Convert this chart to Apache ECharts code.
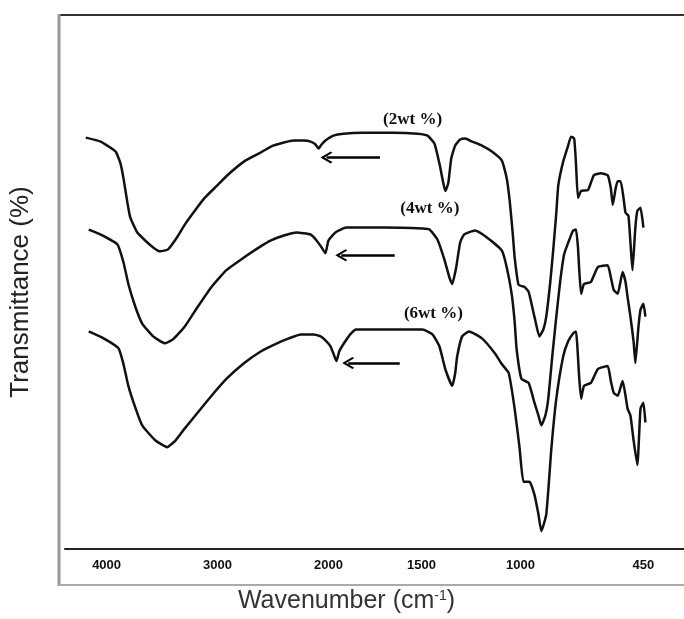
<!DOCTYPE html>
<html>
<head>
<meta charset="utf-8">
<script src="https://cdn.jsdelivr.net/npm/echarts@6/dist/echarts.min.js"></script>
<style>
  html, body { margin: 0; padding: 0; background: #fff; }
  #main { width: 684px; height: 619px; }
</style>
</head>
<body>
<div id="main"></div>
<script>
// x axis breaks: the wavenumber scale is not linear (expanded below 2000)
const tickWn = [4000, 3000, 2000, 1500, 1000, 450];
const tickLabels = ['4000', '3000', '2000', '1500', '1000', '450'];
const tickAxis = [0, 112, 224, 318, 418, 542];

// 2 wt %
const wn2 = [4188,4054,3920,3875,3848,3812,3786,3723,3652,3580,3518,3446,3366,3295,3205,3116,3009,2911,2759,2625,2518,2402,2312,2223,2161,2116,2089,2062,2027,1973,1920,1814,1654,1521,1470,1435,1410,1390,1380,1365,1350,1330,1305,1280,1245,1195,1145,1095,1070,1055,1040,1030,1010,982,964,951,933,916,898,885,867,854,840,831,809,787,774,760,752,743,729,698,672,641,610,596,587,574,565,552,539,530,517,508,499,486,477,463,450];
const t2 = [83.2,82.4,80.4,78,75,70,67,64,62.4,61,60.2,60.6,63,65.6,68.4,71,73.4,75.6,78.4,80,81.4,82.2,82.6,82.6,82.4,81.8,81,81.8,82.6,83.6,84,84.2,84.2,84,83.6,82,78,74,72.4,74,79,81.6,82.8,83,82.4,81.6,80.4,78.6,75,70.4,64,59,53.4,53,52,49.6,46,43,44.4,47,54,60.4,68,73.6,78.4,81.6,83.4,83,78,71,72.4,72.6,75.6,76,75.6,73,69.6,73,74.4,74.4,71,68,67.4,62,56.4,65,68.4,69,65];

// 4 wt %
const wn4 = [4161,4054,3902,3848,3804,3741,3679,3580,3473,3402,3295,3178,3054,2920,2759,2625,2518,2402,2286,2161,2107,2062,2027,2000,1963,1904,1707,1495,1460,1420,1385,1360,1345,1325,1305,1285,1230,1170,1095,1070,1045,1030,1020,996,964,938,920,907,889,876,858,840,823,805,783,765,752,743,738,729,716,685,654,610,596,583,565,543,530,521,508,494,486,472,463,450,441];
const t4 = [64.6,63.6,61.6,58,53.6,49,45.6,43,41.6,42.4,45,49,53,56.4,59,61,62.4,63.4,64,63.6,62.4,61,59.8,62.4,64,65,65,64.8,64.6,62.6,58.6,55,53.6,57,62,63.6,64.4,63,60.4,57,51.6,46,40.4,34.4,33.6,29.6,27,25,27,30.4,39,47,54,59.6,62.4,64.4,64.6,61,57,51.6,53.6,54,57,57.4,55,52.4,51.6,56,54,51,47,42,37.6,45,48.4,49.6,47];

// 6 wt %
const wn6 = [4161,4027,3893,3848,3804,3741,3679,3562,3455,3384,3295,3178,3054,2920,2759,2607,2464,2357,2250,2134,2071,2027,1989,1968,1957,1942,1920,1883,1851,1761,1495,1445,1410,1380,1345,1330,1320,1295,1260,1195,1130,1095,1060,1030,1005,987,960,938,920,907,885,862,840,809,787,765,752,738,729,716,685,654,610,596,583,565,543,530,521,508,494,477,463,450,441];
const t6 = [44,42.6,40.6,37.4,33,28.6,25,22,20.6,21.8,24.4,27.6,31,34.4,37.6,40,41.6,42.6,43.4,43.4,43,42.2,41,39,38,40,41.4,43.4,44.4,44.4,44.4,43.4,41,36.4,33,35.6,39,43,44,42.6,39.6,37.4,35.6,28.4,20.4,13.6,13.6,11,7,3.6,7,20.4,30.4,39,42,43.6,44,35,30.4,33,33.6,36.4,37,34,31.6,31,34,31,28.4,27,22,17,28.4,29.6,25.6];

// annotations
const labelText = ['(2wt %)', '(4wt %)', '(6wt %)'];
const labelWn = [1548, 1458, 1440];
const labelT = [86.8, 68.8, 47.6];
const arrowFromWn = [1723, 1644, 1617];
const arrowToWn = [2018, 1931, 1894];
const arrowT = [79.2, 59.4, 37.6];

function wnToAxis(wn) {
  let i = 0;
  while (i < tickWn.length - 2 && wn < tickWn[i + 1]) i++;
  const f = (wn - tickWn[i]) / (tickWn[i + 1] - tickWn[i]);
  return tickAxis[i] + f * (tickAxis[i + 1] - tickAxis[i]);
}

const arrowHead = 'path://M0,0 L7,9 L5.5,10.5 L0,3.5 L-5.5,10.5 L-7,9 Z';

function makeSeries(name, wn, t, k) {
  return {
    name: name,
    type: 'line',
    data: wn.map((w, j) => [wnToAxis(w), t[j]]),
    showSymbol: false,
    smooth: 0.15,
    lineStyle: { color: '#111', width: 2.5 },
    markLine: {
      silent: true,
      symbol: ['none', arrowHead],
      symbolSize: [12, 12],
      lineStyle: { color: '#000', width: 2.5, type: 'solid' },
      label: { show: false },
      data: [[
        { coord: [wnToAxis(arrowFromWn[k]), arrowT[k]] },
        { coord: [wnToAxis(arrowToWn[k]), arrowT[k]] }
      ]]
    },
    markPoint: {
      silent: true,
      symbol: 'circle',
      symbolSize: 1,
      itemStyle: { color: 'rgba(0,0,0,0)' },
      label: {
        show: true, position: 'inside', formatter: '{b}',
        fontFamily: 'Liberation Serif', fontWeight: 'bold', fontSize: 17, color: '#111'
      },
      data: [{ name: labelText[k], coord: [wnToAxis(labelWn[k]), labelT[k]] }]
    }
  };
}

const chart = echarts.init(document.getElementById('main'));
chart.setOption({
  animation: false,
  grid: { left: 59, right: 0, top: 15, bottom: 64 },
  xAxis: {
    type: 'value',
    min: -42,
    max: 583,
    axisLine: { show: true, lineStyle: { color: '#222', width: 2 } },
    axisTick: { show: false },
    splitLine: { show: false },
    axisLabel: {
      customValues: tickAxis,
      formatter: v => tickLabels[tickAxis.indexOf(v)],
      margin: 10,
      fontFamily: 'Liberation Sans', fontWeight: 'bold', fontSize: 13, color: '#111'
    },
    name: 'Wavenumber (cm{sup|-1})',
    nameLocation: 'middle',
    nameGap: 40,
    nameTextStyle: {
      fontFamily: 'Liberation Sans', fontSize: 25, color: '#333',
      padding: [0, 56, 0, 0],
      rich: { sup: { fontFamily: 'Liberation Sans', fontSize: 14, verticalAlign: 'top', padding: [0, 0, 10, 0], color: '#333' } }
    }
  },
  yAxis: {
    type: 'value',
    min: 0,
    max: 108,
    axisLine: { show: false },
    axisTick: { show: false },
    axisLabel: { show: false },
    splitLine: { show: false },
    name: 'Transmittance (%)',
    nameLocation: 'middle',
    nameRotate: 90,
    nameGap: 31,
    nameTextStyle: { fontFamily: 'Liberation Sans', fontSize: 26, color: '#222', padding: [0, 20, 0, 0] }
  },
  graphic: [
    { type: 'line', shape: { x1: 59, y1: 15, x2: 684, y2: 15 }, style: { stroke: '#333', lineWidth: 2 } },
    { type: 'line', shape: { x1: 59, y1: 14, x2: 59, y2: 586 }, style: { stroke: '#999', lineWidth: 3 } },
    { type: 'line', shape: { x1: 59, y1: 585, x2: 684, y2: 585 }, style: { stroke: '#aaa', lineWidth: 2 } }
  ],
  series: [
    makeSeries('2wt %', wn2, t2, 0),
    makeSeries('4wt %', wn4, t4, 1),
    makeSeries('6wt %', wn6, t6, 2)
  ]
});
</script>
</body>
</html>
